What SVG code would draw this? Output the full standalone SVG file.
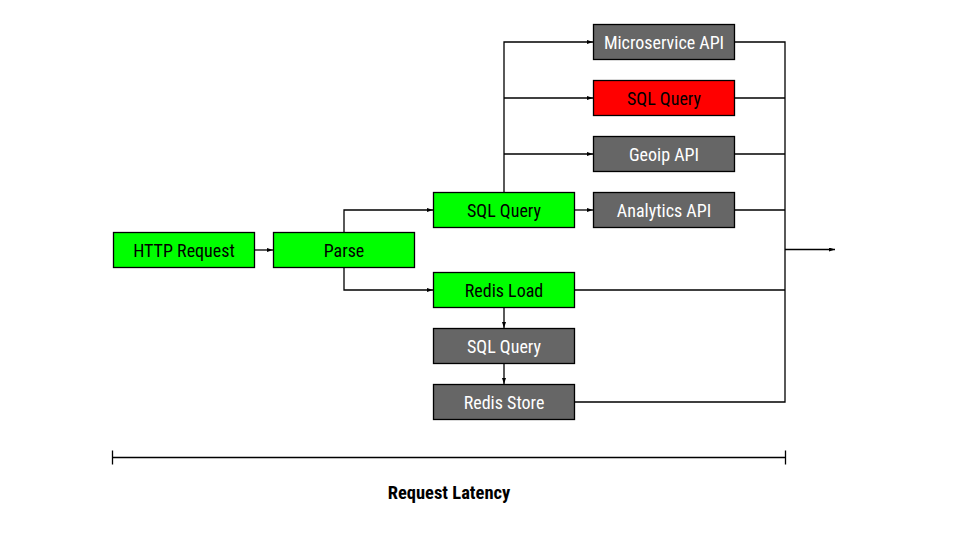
<svg xmlns="http://www.w3.org/2000/svg" width="960" height="540" viewBox="0 0 960 540">
<style>
.box rect{stroke:#000;stroke-width:1.3}
.g rect{fill:#00ff00}
.d rect{fill:#666666}
.r rect{fill:#ff0000}
text{font-family:"Liberation Sans Narrow","Roboto Condensed","Liberation Sans",sans-serif;font-size:18px;text-anchor:middle;dominant-baseline:central}
.g text,.r text{fill:#000}
.d text{fill:#fff}
.c path{fill:none;stroke:#000;stroke-width:1.3}
.title{font-weight:bold;font-size:18.5px;fill:#000}
</style>
<defs>
<marker id="a" markerWidth="6" markerHeight="4" refX="6" refY="2" orient="auto" markerUnits="userSpaceOnUse">
<path d="M0,0 L6,2 L0,4 z" fill="#000"/>
</marker>
</defs>
<rect width="960" height="540" fill="#fff"/>
<g class="c">
<path d="M254.5,250 H273" marker-end="url(#a)"/>
<path d="M344,232.5 V210 H433" marker-end="url(#a)"/>
<path d="M344,267.5 V290 H433" marker-end="url(#a)"/>
<path d="M504,192.5 V42 H593" marker-end="url(#a)"/>
<path d="M504,98 H593" marker-end="url(#a)"/>
<path d="M504,154 H593" marker-end="url(#a)"/>
<path d="M574.5,210 H593" marker-end="url(#a)"/>
<path d="M504,307.5 V328" marker-end="url(#a)"/>
<path d="M504,363.5 V384" marker-end="url(#a)"/>
<path d="M734.5,42 H785 V402 H574.5"/>
<path d="M734.5,98 H785"/>
<path d="M734.5,154 H785"/>
<path d="M734.5,210 H785"/>
<path d="M574.5,290 H785"/>
<path d="M785,249.5 H835" marker-end="url(#a)"/>
<path d="M112.5,457.5 H785.5 M112.5,450.5 V464.5 M785.5,450.5 V464.5"/>
</g>
<g id="http" class="box g"><rect x="113.5" y="232.5" width="141" height="35"/><text x="184" y="250">HTTP Request</text></g>
<g id="parse" class="box g"><rect x="273.5" y="232.5" width="141" height="35"/><text x="344" y="250">Parse</text></g>
<g id="sql1" class="box g"><rect x="433.5" y="192.5" width="141" height="35"/><text x="504" y="210">SQL Query</text></g>
<g id="redisload" class="box g"><rect x="433.5" y="272.5" width="141" height="35"/><text x="504" y="290">Redis Load</text></g>
<g id="sql2" class="box d"><rect x="433.5" y="328.5" width="141" height="35"/><text x="504" y="346">SQL Query</text></g>
<g id="redisstore" class="box d"><rect x="433.5" y="384.5" width="141" height="35"/><text x="504" y="402">Redis Store</text></g>
<g id="micro" class="box d"><rect x="593.5" y="24.5" width="141" height="35"/><text x="664" y="42">Microservice API</text></g>
<g id="sql3" class="box r"><rect x="593.5" y="80.5" width="141" height="35"/><text x="664" y="98">SQL Query</text></g>
<g id="geoip" class="box d"><rect x="593.5" y="136.5" width="141" height="35"/><text x="664" y="154">Geoip API</text></g>
<g id="analytics" class="box d"><rect x="593.5" y="192.5" width="141" height="35"/><text x="664" y="210">Analytics API</text></g>
<text class="title" x="449" y="493">Request Latency</text>
</svg>
